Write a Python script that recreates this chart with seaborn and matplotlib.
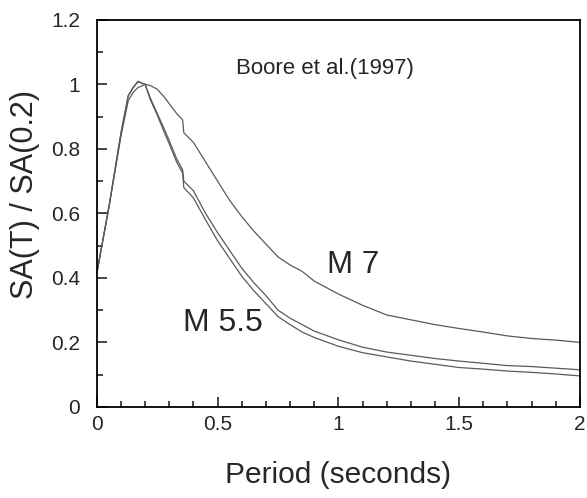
import numpy as np
import pandas as pd
import matplotlib
matplotlib.use("Agg")
import matplotlib.pyplot as plt
import seaborn as sns

# spectral shape curves (Boore et al. 1997)
period = [0, 0.05, 0.1, 0.13, 0.15, 0.17, 0.2, 0.22, 0.25, 0.28, 0.3, 0.33, 0.355, 0.36,
          0.4, 0.45, 0.5, 0.55, 0.6, 0.65, 0.7, 0.75, 0.8, 0.85, 0.9, 1.0,
          1.1, 1.2, 1.3, 1.4, 1.5, 1.6, 1.7, 1.8, 1.9, 2.0]
m7 = [0.415, 0.62, 0.84, 0.95, 0.975, 0.99, 1.0, 0.997, 0.985, 0.96, 0.94, 0.91, 0.89, 0.85,
      0.82, 0.76, 0.70, 0.64, 0.59, 0.545, 0.505, 0.465, 0.44, 0.42, 0.39, 0.35,
      0.315, 0.285, 0.27, 0.255, 0.243, 0.232, 0.22, 0.212, 0.207, 0.2]
m6 = [0.415, 0.62, 0.85, 0.965, 0.99, 1.01, 1.0, 0.96, 0.91, 0.86, 0.825, 0.77, 0.735, 0.70,
      0.67, 0.60, 0.54, 0.485, 0.43, 0.385, 0.345, 0.30, 0.275, 0.255, 0.235, 0.208,
      0.185, 0.17, 0.16, 0.15, 0.142, 0.135, 0.128, 0.125, 0.12, 0.115]
m55 = [0.415, 0.62, 0.85, 0.965, 0.99, 1.008, 1.0, 0.955, 0.905, 0.85, 0.815, 0.76, 0.725, 0.68,
       0.648, 0.58, 0.515, 0.46, 0.405, 0.36, 0.32, 0.28, 0.255, 0.232, 0.215, 0.188,
       0.168, 0.155, 0.142, 0.132, 0.122, 0.117, 0.111, 0.107, 0.102, 0.096]

xticks = [0, 0.5, 1, 1.5, 2]
xticklabels = ["0", "0.5", "1", "1.5", "2"]
yticks = [0, 0.2, 0.4, 0.6, 0.8, 1.0, 1.2]
yticklabels = ["0", "0.2", "0.4", "0.6", "0.8", "1", "1.2"]

df = pd.DataFrame({"period": period, "M 7": m7, "M 6": m6, "M 5.5": m55})
long_df = df.melt(id_vars="period", var_name="mag", value_name="ratio")

sns.set_style("ticks")
plt.rcParams['font.family'] = ['Liberation Sans', 'DejaVu Sans']

fig = plt.figure(figsize=(5.87, 4.98), dpi=100)
ax = fig.add_axes([0.165, 0.183, 0.823, 0.777])

sns.lineplot(data=long_df, x="period", y="ratio", hue="mag", units="mag", estimator=None,
             palette=["#5a5a5a"] * 3, linewidth=0.9, legend=False, ax=ax)

ax.set_xlim(0, 2)
ax.set_ylim(0, 1.2)
ax.set_xticks(xticks)
ax.set_xticklabels(xticklabels)
ax.set_xticks(np.arange(0, 2.01, 0.1), minor=True)
ax.set_yticks(yticks)
ax.set_yticklabels(yticklabels)
ax.set_yticks(np.arange(0, 1.21, 0.1), minor=True)
ax.tick_params(which="both", direction="in", top=False, right=False, width=1.2, labelsize=15)
ax.tick_params(which="major", length=7)
ax.tick_params(which="minor", length=4)
ax.tick_params(axis="x", which="major", pad=6)
ax.tick_params(axis="y", which="major", pad=12)
for s in ax.spines.values():
    s.set_linewidth(1.3)
    s.set_color("black")

ax.set_xlabel("Period (seconds)", fontsize=21.5, labelpad=19)
ax.set_ylabel("SA(T) / SA(0.2)", fontsize=22)
ax.yaxis.set_label_coords(-0.118, 0.55)

ax.text(0.577, 1.048, "Boore et al.(1997)", fontsize=16, va="center", ha="left")
ax.text(0.953, 0.44, "M 7", fontsize=22.5, va="center", ha="left")
ax.text(0.355, 0.26, "M 5.5", fontsize=23, va="center", ha="left")

fig.savefig("out.png", dpi=100)
